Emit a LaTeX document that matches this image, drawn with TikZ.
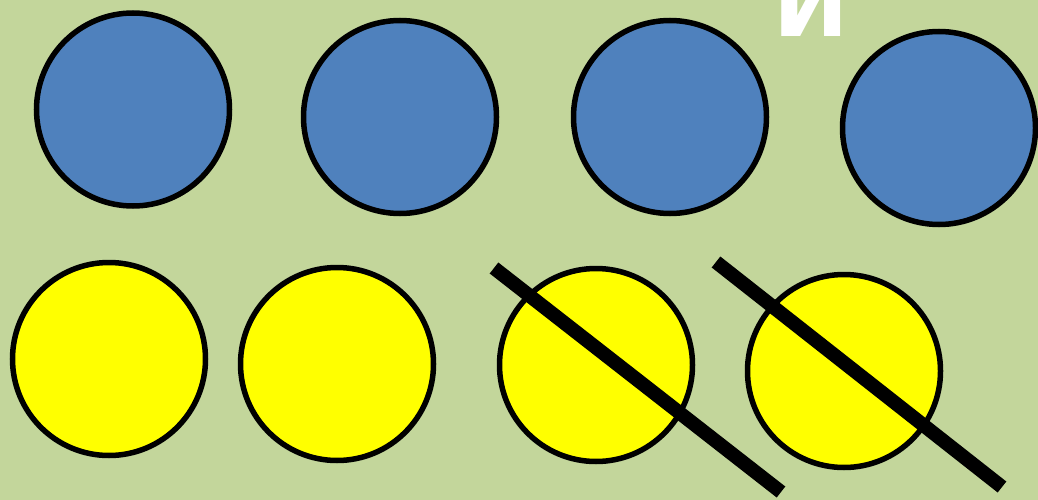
\documentclass[tikz,border=0pt]{standalone}
\usepackage{fontspec}
\newfontfamily\cyrfont{DejaVu Sans}
\begin{document}
\begin{tikzpicture}[x=1pt,y=-1pt,
  coin/.style={circle,draw=black,line width=5.5pt,minimum size=193pt,inner sep=0pt},
  bluecoin/.style={coin,fill=blueC},
  yellowcoin/.style={coin,fill=yellowC},
  strike/.style={line width=14pt,draw=black,line cap=butt}]
\definecolor{bgC}{HTML}{C3D69B}
\definecolor{blueC}{HTML}{4F81BD}
\definecolor{yellowC}{HTML}{FFFF00}
\useasboundingbox (0,0) rectangle (1038,500);
\clip (0,0) rectangle (1038,500);
\fill[bgC] (0,0) rectangle (1038,500);
\node[bluecoin] (b1) at (133,109.5) {};
\node[bluecoin] (b2) at (400,117) {};
\node[bluecoin] (b3) at (670,117) {};
\node[bluecoin] (b4) at (939,128) {};
\node[yellowcoin] (y1) at (109,359) {};
\node[yellowcoin] (y2) at (337,364) {};
\node[yellowcoin] (y3) at (596,365) {};
\node[yellowcoin] (y4) at (844,371) {};
\coordinate (s1a) at (494,268);
\coordinate (s1b) at (781,492);
\coordinate (s2a) at (716,262);
\coordinate (s2b) at (1002,487);
\draw[strike] (s1a) -- (s1b);
\draw[strike] (s2a) -- (s2b);
\node[anchor=base,text=white,inner sep=0pt,font=\cyrfont\bfseries\fontsize{90}{90}\selectfont] (ttl) at (811,37) {И};
\end{tikzpicture}
\end{document}
